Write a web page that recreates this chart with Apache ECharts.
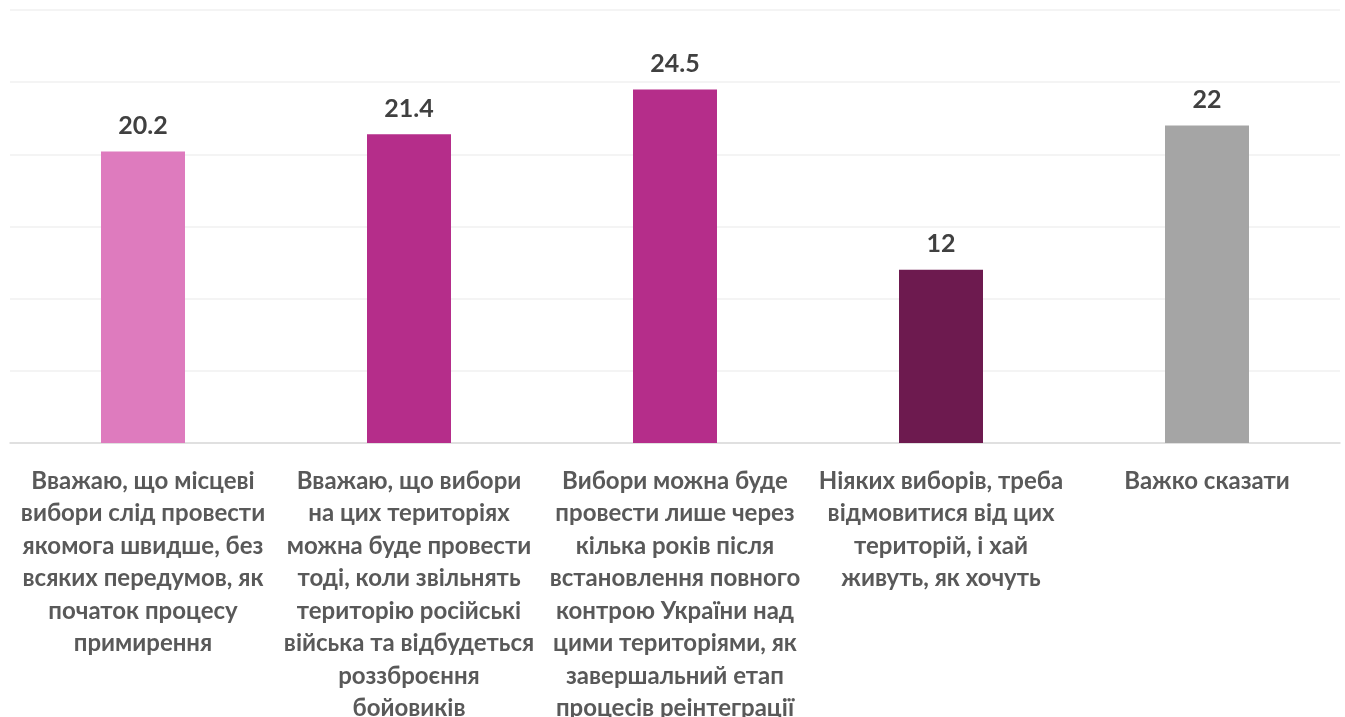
<!DOCTYPE html>
<html>
<head>
<meta charset="utf-8">
<script src="https://cdn.jsdelivr.net/npm/echarts@6/dist/echarts.min.js"></script>
<style>
  html, body { margin: 0; padding: 0; background: #fff; overflow: hidden; }
  #chart { width: 1345px; height: 717px; }
</style>
</head>
<body>
<div id="chart"></div>
<script>
// категорії (підписи осі)
var categories = [
  "Вважаю, що місцеві\nвибори слід провести\nякомога швидше, без\nвсяких передумов, як\nпочаток процесу\nпримирення",
  "Вважаю, що вибори\nна цих територіях\nможна буде провести\nтоді, коли звільнять\nтериторію російські\nвійська та відбудеться\nроззброєння\nбойовиків",
  "Вибори можна буде\nпровести лише через\nкілька років після\nвстановлення повного\nконтрою України над\nцими територіями, як\nзавершальний етап\nпроцесів реінтеграції",
  "Ніяких виборів, треба\nвідмовитися від цих\nтериторій, і хай\nживуть, як хочуть",
  "Важко сказати"
];
var values = [20.2, 21.4, 24.5, 12, 22];
var barColors = ["#DE7BBE", "#B52D8A", "#B52D8A", "#6D1A4F", "#A5A5A5"];

var fontFamily = "Lato, 'Open Sans', 'Noto Sans', sans-serif";

var chart = echarts.init(document.getElementById("chart"));
var option = {
  backgroundColor: "#ffffff",
  animation: false,
  grid: { left: 10, right: 5, top: 10, bottom: 274, outerBoundsMode: "none", containLabel: false },
  xAxis: {
    type: "category",
    data: categories,
    axisTick: { show: false },
    axisLine: { lineStyle: { color: "#D9D9D9", width: 1.5 } },
    axisLabel: {
      interval: 0,
      margin: 22,
      color: "#595959",
      fontFamily: fontFamily,
      fontWeight: "bold",
      fontSize: 24,
      lineHeight: 32.5,
      align: "center"
    }
  },
  yAxis: {
    type: "value",
    min: 0,
    max: 30,
    interval: 5,
    axisLabel: { show: false },
    axisLine: { show: false },
    axisTick: { show: false },
    splitLine: { lineStyle: { color: "#F0F0F0", width: 1.5 } }
  },
  series: [{
    type: "bar",
    barWidth: 84,
    data: values.map(function (v, i) {
      return { value: v, itemStyle: { color: barColors[i] } };
    }),
    label: {
      show: true,
      position: "top",
      distance: 13,
      color: "#404040",
      fontFamily: fontFamily,
      fontWeight: "bold",
      fontSize: 25
    }
  }]
};
chart.setOption(option);
</script>
</body>
</html>
